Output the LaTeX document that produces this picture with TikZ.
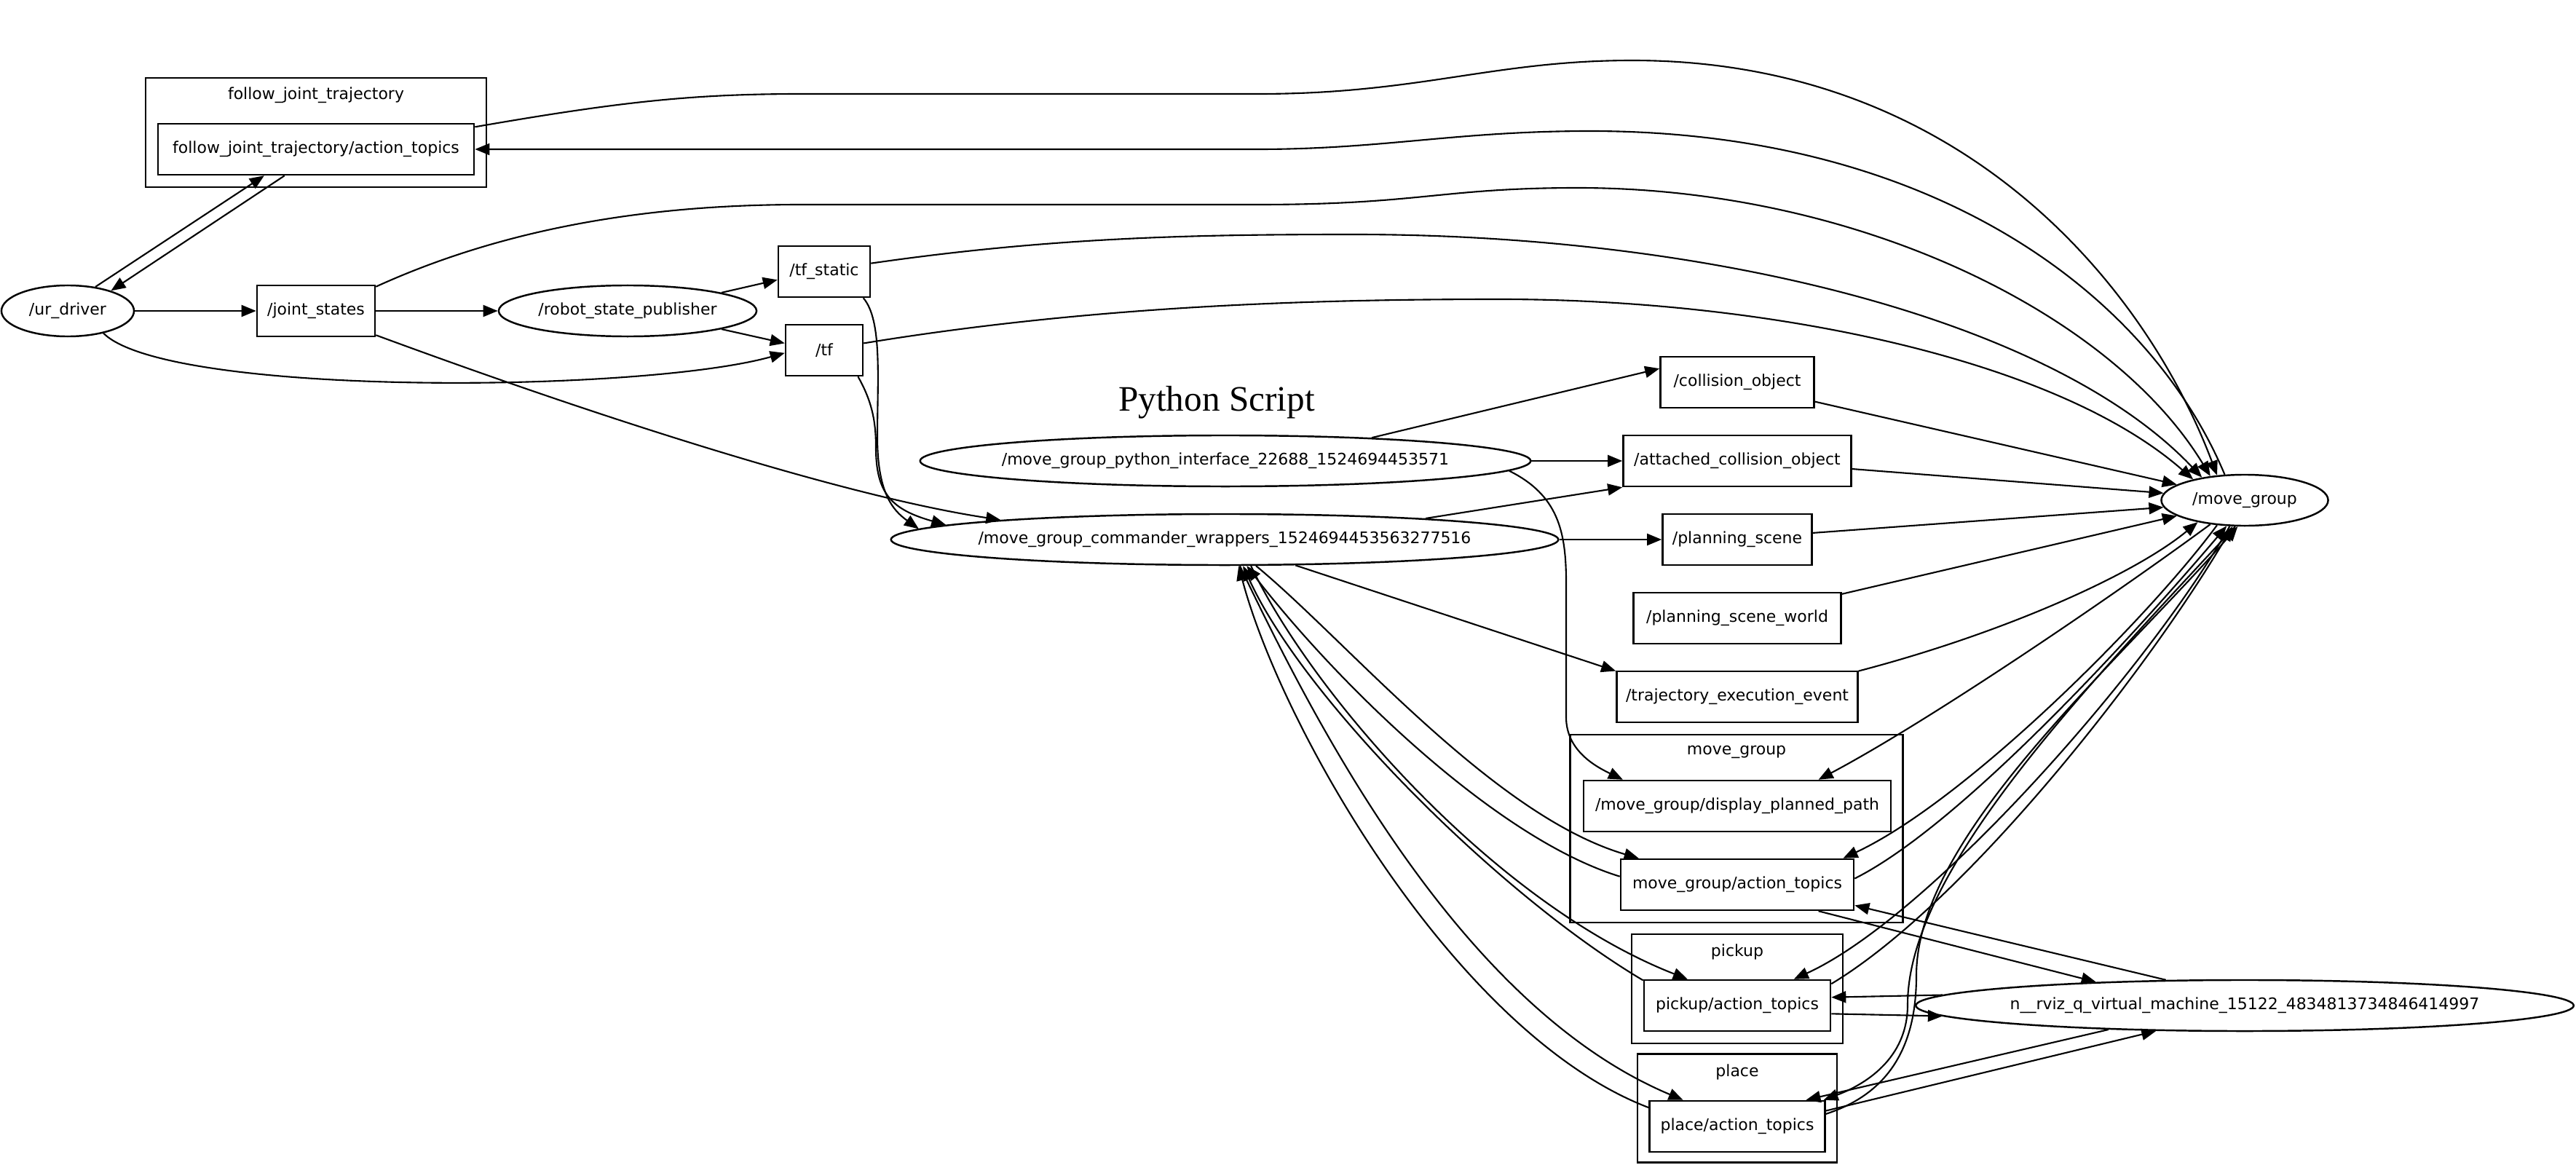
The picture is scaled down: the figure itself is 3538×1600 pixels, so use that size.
\documentclass[tikz,border=0pt]{standalone}
\usepackage{fontspec}
\setmainfont{DejaVu Sans}
\newfontfamily\pyfont{Liberation Serif}
\usetikzlibrary{shapes.geometric, arrows.meta}
\newcommand{\ovallabel}[1]{\makebox[0pt]{#1}}

\begin{document}
\begin{tikzpicture}[x=0.01cm, y=-0.01cm,
        font=\fontsize{6.25}{7.5}\selectfont,
        topicbox/.style={draw, rectangle, line width=0.7pt, inner sep=0pt, minimum height=0.7cm},
        nodeoval/.style={draw, ellipse, line width=0.7pt, inner sep=0pt, minimum height=0.7cm},
        clusterbox/.style={draw, rectangle, line width=0.7pt, inner sep=0pt},
        msg/.style={-{Triangle[length=0.2cm, width=0.16cm]}, line width=0.6pt}]
        \useasboundingbox (0,0) rectangle (3538,1600);

        % Define the clusters
        \node[clusterbox, minimum width=4.68cm, minimum height=1.5cm] (fjtcl) at (434,182) {};
        \node (fjtlbl) at (434,131) {follow\_joint\_trajectory};
        \node[clusterbox, minimum width=4.57cm, minimum height=2.58cm] (mgcl) at (2385,1138) {};
        \node (mglbl) at (2385,1033) {move\_group};
        \node[clusterbox, minimum width=2.9cm, minimum height=1.5cm] (pkcl) at (2386,1358) {};
        \node (pklbl) at (2386,1307) {pickup};
        \node[clusterbox, minimum width=2.74cm, minimum height=1.49cm] (plcl) at (2386,1522) {};
        \node (pllbl) at (2386,1472) {place};

        % Define the nodes
        \node[topicbox, minimum width=4.34cm] (fjt) at (434,205) {follow\_joint\_trajectory/action\_topics};
        \node[nodeoval, minimum width=1.82cm] (ur) at (93,427) {\ovallabel{/ur\_driver}};
        \node[topicbox, minimum width=1.62cm] (js) at (434,427) {/joint\_states};
        \node[nodeoval, minimum width=3.54cm] (rsp) at (862,427) {\ovallabel{/robot\_state\_publisher}};
        \node[topicbox, minimum width=1.26cm] (tfs) at (1132,373) {/tf\_static};
        \node[topicbox, minimum width=1.06cm] (tf) at (1132,481) {/tf};
        \node[font={\pyfont\fontsize{14}{16}\selectfont}] (pytitle) at (1671,553) {Python Script};
        \node[nodeoval, minimum width=8.38cm] (pyi) at (1683,633) {\ovallabel{/move\_group\_python\_interface\_22688\_1524694453571}};
        \node[nodeoval, minimum width=9.16cm] (cmd) at (1682,741) {\ovallabel{/move\_group\_commander\_wrappers\_1524694453563277516}};
        \node[topicbox, minimum width=2.11cm] (col) at (2386,525) {/collision\_object};
        \node[topicbox, minimum width=3.13cm] (att) at (2386,633) {/attached\_collision\_object};
        \node[topicbox, minimum width=2.05cm] (ps) at (2386,741) {/planning\_scene};
        \node[topicbox, minimum width=2.85cm] (psw) at (2386,849) {/planning\_scene\_world};
        \node[topicbox, minimum width=3.31cm] (tee) at (2386,957) {/trajectory\_execution\_event};
        \node[topicbox, minimum width=4.22cm] (dpp) at (2386,1107) {/move\_group/display\_planned\_path};
        \node[topicbox, minimum width=3.2cm] (mga) at (2386,1215) {move\_group/action\_topics};
        \node[topicbox, minimum width=2.56cm] (pk) at (2386,1381) {pickup/action\_topics};
        \node[topicbox, minimum width=2.41cm] (pl) at (2386,1547) {place/action\_topics};
        \node[nodeoval, minimum width=2.29cm] (mg) at (3083,687) {\ovallabel{/move\_group}};
        \node[nodeoval, minimum width=9.03cm] (rviz) at (3083,1381) {\ovallabel{n\_\_rviz\_q\_virtual\_machine\_15122\_4834813734846414997}};

        % Draw the arrows
        \draw[msg] (ur.41) -- (fjt.207);
        \draw[msg] (fjt.220) -- (ur.25);
        \draw[msg] (ur) -- (js);
        \draw[msg] (js) -- (rsp);
        \draw[msg] (ur.328) .. controls (230,545) and (880,540) .. (tf.184);
        \draw[msg] (rsp.11) -- (tfs.190);
        \draw[msg] (rsp.349) -- (tf.170);
        \draw[msg] (js.338) .. controls (800,565) and (1150,680) .. (cmd.175);
        \draw[msg] (js.22) .. controls (700,310) and (900,281) .. (1100,281) -- (1728,281) .. controls (1950,281) and (1980,258) .. (2167,258) .. controls (2550,258) and (2900,430) .. (mg.145);
        \draw[msg] (tfs.10) .. controls (1450,325) and (1650,322) .. (1860,322) .. controls (2350,322) and (2820,440) .. (mg.152);
        \draw[msg] (tf.10) .. controls (1500,420) and (1800,411) .. (2060,411) .. controls (2420,411) and (2820,490) .. (mg.158);
        \draw[msg] (fjt.8) .. controls (850,140) and (950,129) .. (1100,129) -- (1728,129) .. controls (1950,129) and (2050,83) .. (2242,83) .. controls (2700,83) and (2950,400) .. (mg.138);
        \draw[msg] (mg.128) .. controls (2950,400) and (2650,180) .. (2184,180) .. controls (2000,180) and (1900,205) .. (1728,205) -- (fjt.east);
        \draw[msg] (tfs.326) .. controls (1212,440) and (1205,520) .. (1205,600) .. controls (1205,675) and (1225,700) .. (cmd.178);
        \draw[msg] (tf.322) .. controls (1200,555) and (1203,585) .. (1203,615) .. controls (1203,678) and (1225,700) .. (cmd.177);
        \draw[msg] (pyi.9) -- (col.170);
        \draw[msg] (pyi) -- (att);
        \draw[msg] (pyi.358) .. controls (2140,680) and (2151,730) .. (2151,800) -- (2151,985) .. controls (2151,1030) and (2190,1052) .. (dpp.167);
        \draw[msg] (cmd.6) -- (att.south west);
        \draw[msg] (cmd) -- (ps);
        \draw[msg] (cmd.340) -- (tee.168);
        \draw[msg] (cmd.320) .. controls (1850,880) and (2050,1120) .. (mga.165);
        \draw[msg] (mga.176) .. controls (2050,1150) and (1830,930) .. (cmd.310);
        \draw[msg] (cmd.315) .. controls (1800,950) and (2050,1240) .. (pk.152);
        \draw[msg] (pk.165) .. controls (2060,1230) and (1790,960) .. (cmd.305);
        \draw[msg] (cmd.300) .. controls (1800,980) and (2000,1380) .. (pl.154);
        \draw[msg] (pl.168) .. controls (2000,1420) and (1760,1000) .. (cmd.298);
        \draw[msg] (col.346) -- (mg.167);
        \draw[msg] (att.356) -- (mg.175);
        \draw[msg] (ps.5) -- (mg.185);
        \draw[msg] (psw.13) -- (mg.193);
        \draw[msg] (tee.12) .. controls (2750,870) and (2930,790) .. (mg.205);
        \draw[msg] (mg.215) .. controls (2900,820) and (2650,990) .. (dpp.18);
        \draw[msg] (mg.222) .. controls (2950,850) and (2700,1100) .. (mga.14);
        \draw[msg] (mga.3) .. controls (2700,1130) and (2950,850) .. (mg.235);
        \draw[msg] (mg.240) .. controls (2950,920) and (2650,1260) .. (pk.25);
        \draw[msg] (pk.13) .. controls (2700,1240) and (2950,920) .. (mg.245);
        \draw[msg] (mg.250) .. controls (2850,960) and (2620,1200) .. (2620,1380) .. controls (2620,1455) and (2560,1490) .. (pl.17);
        \draw[msg] (pl.8) .. controls (2600,1500) and (2632,1430) .. (2632,1340) .. controls (2632,1150) and (2900,920) .. (mg.255);
        \draw[msg] (mga.342) -- (rviz.171);
        \draw[msg] (rviz.162) -- (mga.350);
        \draw[msg] (rviz.178) -- (pk.5);
        \draw[msg] (pk.355) -- (rviz.182);
        \draw[msg] (rviz.190) -- (pl.21);
        \draw[msg] (pl.10) -- (rviz.196);
    \end{tikzpicture}
\end{document}
